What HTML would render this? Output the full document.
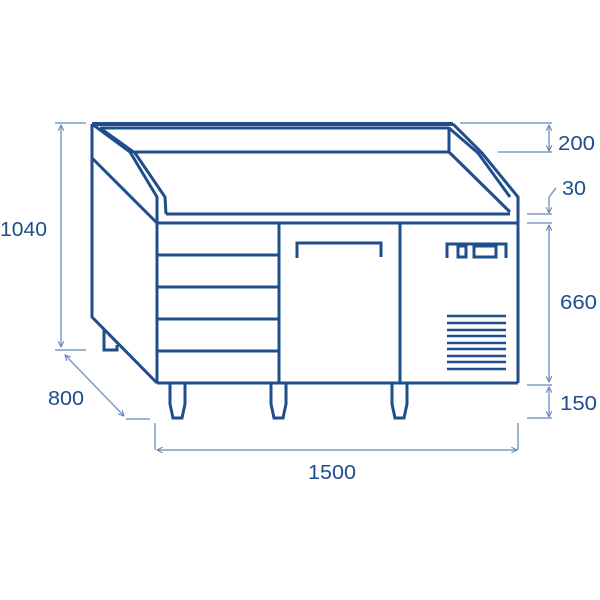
<!DOCTYPE html>
<html><head><meta charset="utf-8"><style>
html,body{margin:0;padding:0;background:#fff;width:600px;height:600px;overflow:hidden}
svg{display:block}
text{font-family:"Liberation Sans",sans-serif;fill:#1f4e8c;font-size:20px}
</style></head><body>
<svg width="600" height="600" viewBox="0 0 600 600">
<defs>
<marker id="a" viewBox="0 0 10 10" refX="9" refY="5" markerWidth="7" markerHeight="7" orient="auto-start-reverse" markerUnits="userSpaceOnUse">
<path d="M1,1 L9,5 L1,9" fill="none" stroke="#5f83b5" stroke-width="1.5"/>
</marker>
</defs>
<g fill="none" stroke="#1f4e8c" stroke-width="3" stroke-linejoin="miter">
<line x1="92" y1="124" x2="453" y2="124" stroke-width="4"/>
<line x1="100" y1="128" x2="449" y2="128"/>
<line x1="135" y1="152" x2="449" y2="152"/>
<line x1="449" y1="127" x2="449" y2="152"/>
<polyline points="92,124 130,152 157,197 157,223"/>
<polyline points="100,128 135,153 165,197 166,214"/>
<polyline points="92,124 92,317 157,383"/>
<line x1="92" y1="158" x2="157" y2="223"/>
<line x1="166" y1="214" x2="510" y2="214"/>
<line x1="157" y1="223" x2="518" y2="223"/>
<polyline points="453,124 482,153 518,197 518,383"/>
<polyline points="449,128 478,153 510,197"/>
<line x1="449" y1="152" x2="510" y2="212"/>
<line x1="157" y1="223" x2="157" y2="383"/>
<line x1="157" y1="383" x2="518" y2="383"/>
<line x1="279" y1="223" x2="279" y2="383"/>
<line x1="400" y1="223" x2="400" y2="383"/>
<line x1="157" y1="255" x2="279" y2="255"/>
<line x1="157" y1="287" x2="279" y2="287"/>
<line x1="157" y1="319" x2="279" y2="319"/>
<line x1="157" y1="351" x2="279" y2="351"/>
<polyline points="297,258 297,243 381,243 381,257"/>
<polyline points="447,258 447,244 506,244 506,258"/>
<rect x="458" y="246" width="8" height="11"/>
<rect x="474" y="246" width="22" height="11"/>
<path d="M170,383 V404 L173,418 H182 L185,404 V383"/>
<path d="M271,383 V404 L274,418 H283 L286,404 V383"/>
<path d="M392,383 V404 L395,418 H404 L407,404 V383"/>
<path d="M104,330 V350 H117 V345"/>
</g>
<g stroke="#1f4e8c" stroke-width="2.5">
<line x1="447" y1="316" x2="506" y2="316"/><line x1="447" y1="323" x2="506" y2="323"/>
<line x1="447" y1="330" x2="506" y2="330"/><line x1="447" y1="336" x2="506" y2="336"/>
<line x1="447" y1="343" x2="506" y2="343"/><line x1="447" y1="349" x2="506" y2="349"/>
<line x1="447" y1="356" x2="506" y2="356"/><line x1="447" y1="362" x2="506" y2="362"/>
<line x1="447" y1="369" x2="506" y2="369"/>
</g>
<g fill="none" stroke="#7f9cc6" stroke-width="1.5">
<line x1="55" y1="123" x2="86" y2="123"/>
<line x1="55" y1="350" x2="86" y2="350"/>
<line x1="61" y1="125" x2="61" y2="347" marker-start="url(#a)" marker-end="url(#a)"/>
<line x1="65" y1="355" x2="124" y2="416" marker-start="url(#a)" marker-end="url(#a)"/>
<line x1="126" y1="419" x2="150" y2="419"/>
<line x1="155" y1="423" x2="155" y2="450"/>
<line x1="518" y1="423" x2="518" y2="450"/>
<line x1="157" y1="450" x2="517" y2="450" marker-start="url(#a)" marker-end="url(#a)"/>
<line x1="460" y1="123" x2="552" y2="123"/>
<line x1="498" y1="152" x2="552" y2="152"/>
<line x1="549" y1="125" x2="549" y2="151" marker-start="url(#a)" marker-end="url(#a)"/>
<line x1="549" y1="197" x2="549" y2="213" marker-end="url(#a)"/>
<line x1="549" y1="197" x2="556" y2="188"/>
<line x1="527" y1="214" x2="552" y2="214"/>
<line x1="527" y1="223" x2="552" y2="223"/>
<line x1="549" y1="225" x2="549" y2="382" marker-start="url(#a)" marker-end="url(#a)"/>
<line x1="527" y1="385" x2="552" y2="385"/>
<line x1="549" y1="387" x2="549" y2="417" marker-start="url(#a)" marker-end="url(#a)"/>
<line x1="527" y1="418" x2="552" y2="418"/>
</g>
<text x="0" y="236" transform="translate(0,0)" textLength="47" lengthAdjust="spacingAndGlyphs">1040</text>
<text x="48" y="405" textLength="36" lengthAdjust="spacingAndGlyphs">800</text>
<text x="308" y="479" textLength="48" lengthAdjust="spacingAndGlyphs">1500</text>
<text x="558" y="150" textLength="37" lengthAdjust="spacingAndGlyphs">200</text>
<text x="562" y="195" textLength="24" lengthAdjust="spacingAndGlyphs">30</text>
<text x="560" y="309" textLength="37" lengthAdjust="spacingAndGlyphs">660</text>
<text x="560" y="410" textLength="37" lengthAdjust="spacingAndGlyphs">150</text>
</svg>
</body></html>
